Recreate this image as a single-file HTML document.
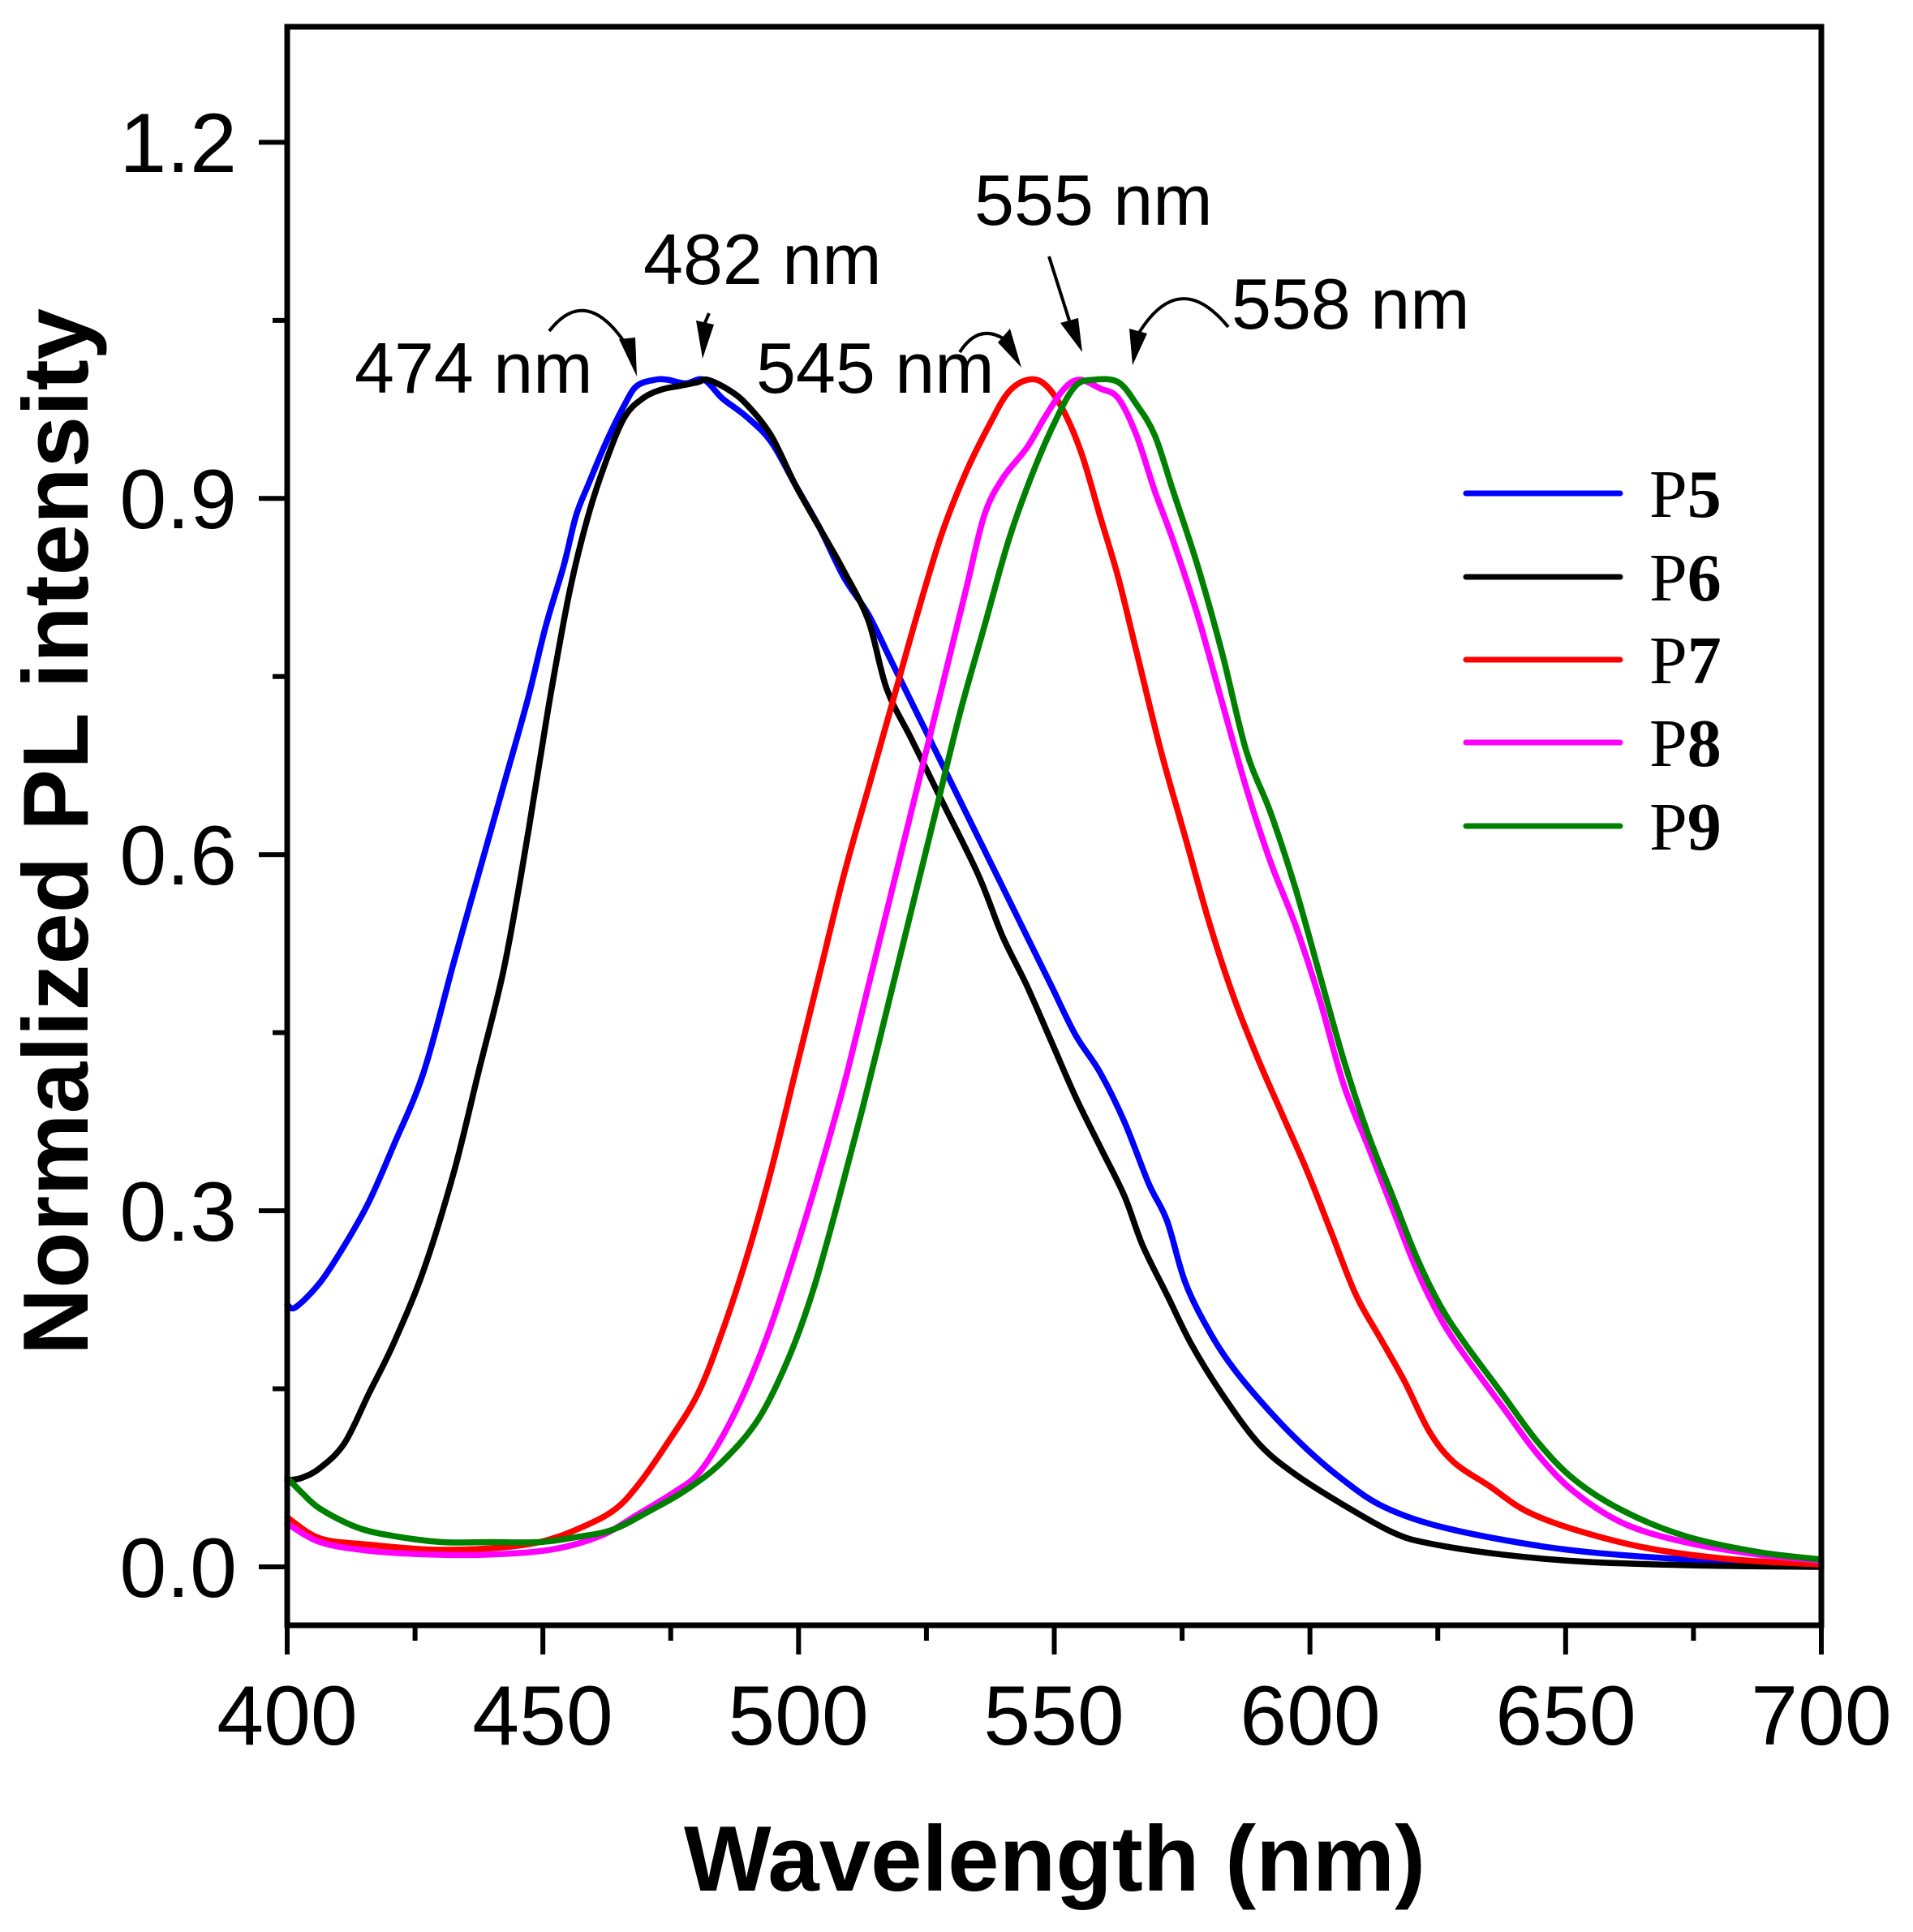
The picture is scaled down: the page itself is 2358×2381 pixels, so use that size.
<!DOCTYPE html>
<html><head><meta charset="utf-8"><style>
html,body{margin:0;padding:0;background:#fff}
svg{display:block}
.t{font-family:"Liberation Sans",Arial,sans-serif}
</style></head><body>
<svg id="s" width="2358" height="2381" viewBox="0 0 2358 2381" xmlns="http://www.w3.org/2000/svg">
<rect width="2358" height="2381" fill="#fff"/>
<g id="curves" fill="none" stroke-width="7.5" stroke-linejoin="round" stroke-linecap="round"></g>
<rect x="354" y="33" width="1891" height="1970" fill="none" stroke="#000" stroke-width="7"/>
<g id="ticks" stroke="#000" stroke-width="6"></g>
<g class="t" font-size="104" fill="#000" text-anchor="middle">
<text x="354" y="2150">400</text><text x="669" y="2150">450</text><text x="984" y="2150">500</text>
<text x="1299" y="2150">550</text><text x="1615" y="2150">600</text><text x="1930" y="2150">650</text><text x="2245" y="2150">700</text>
</g>
<g class="t" font-size="104" fill="#000" text-anchor="end">
<text x="292" y="212">1.2</text><text x="292" y="651">0.9</text><text x="292" y="1090">0.6</text>
<text x="292" y="1529">0.3</text><text x="292" y="1968">0.0</text>
</g>
<text class="t" x="1300" y="2330" font-size="114" font-weight="bold" text-anchor="middle">Wavelength (nm)</text>
<text class="t" transform="translate(108,1025) rotate(-90)" font-size="114" font-weight="bold" text-anchor="middle">Normalized PL intensity</text>
<g class="t" font-size="88" fill="#000">
<text x="437" y="484">474 nm</text><text x="793" y="350">482 nm</text><text x="932" y="484">545 nm</text>
<text x="1201" y="277">555 nm</text><text x="1518" y="405">558 nm</text>
</g>
<g fill="none" stroke="#000" stroke-width="4">
<path d="M677,408 Q722,350 772,425"/>
<path d="M874,386 L868,400"/>
<path d="M1183,434 Q1206,398 1238,418"/>
<path d="M1293,316 L1318,395"/>
<path d="M1514,403 Q1454,330 1404,410"/>
</g>
<g fill="#000">
<polygon points="763,418 783,416 785,464"/>
<polygon points="858,395 880,400 866,442"/>
<polygon points="1230,422 1245,405 1259,453"/>
<polygon points="1307,398 1329,392 1334,434"/>
<polygon points="1392,405 1414,411 1396,450"/>
</g>
<g stroke-width="7" stroke-linecap="round">
<line x1="1807" y1="608" x2="1997" y2="608" stroke="#0000ff"/>
<line x1="1807" y1="711" x2="1997" y2="711" stroke="#000"/>
<line x1="1807" y1="813" x2="1997" y2="813" stroke="#ff0000"/>
<line x1="1807" y1="915" x2="1997" y2="915" stroke="#ff00ff"/>
<line x1="1807" y1="1018" x2="1997" y2="1018" stroke="#008000"/>
</g>
<g font-family="'Liberation Serif','Times New Roman',serif" font-size="84" fill="#000">
<text x="2033" y="637">P<tspan font-weight="bold">5</tspan></text>
<text x="2033" y="740">P<tspan font-weight="bold">6</tspan></text>
<text x="2033" y="842">P<tspan font-weight="bold">7</tspan></text>
<text x="2033" y="944">P<tspan font-weight="bold">8</tspan></text>
<text x="2033" y="1047">P<tspan font-weight="bold">9</tspan></text>
</g>
</svg>
<script>
(function(){
var NS="http://www.w3.org/2000/svg";
function X(xd){return 354+(xd-233)*1.502;}
function Y(yd){return 1931-(1270-yd)*1.524;}
var data={
"#0000ff":[[233,1058],[240,1060],[260,1040],[280,1010],[300,975],[320,930],[345,870],[370,780],[390,710],[410,640],[430,570],[445,510],[460,460],[470,420],[480,395],[495,360],[510,330],[520,315],[535,310],[545,310],[560,313],[575,310],[590,325],[610,340],[630,360],[650,395],[670,430],[690,470],[710,500],[730,540],[760,600],[790,660],[820,720],[840,760],[860,800],[880,840],[900,870],[920,910],[940,960],[955,990],[970,1040],[990,1080],[1010,1110],[1040,1145],[1070,1175],[1100,1200],[1130,1220],[1170,1235],[1230,1248],[1300,1258],[1400,1265],[1492,1268]],
"#000000":[[233,1200],[245,1198],[260,1190],[280,1170],[300,1130],[320,1090],[345,1030],[370,950],[390,870],[410,790],[425,710],[440,620],[450,560],[465,480],[480,420],[495,375],[510,340],[525,325],[540,318],[555,315],[570,312],[578,310],[595,318],[610,330],[630,355],[650,395],[670,430],[690,465],[710,505],[725,560],[745,600],[770,650],[800,710],[820,760],[840,800],[860,845],[880,890],[900,930],[920,970],[935,1010],[955,1050],[975,1090],[1000,1130],[1030,1170],[1060,1195],[1100,1220],[1140,1242],[1170,1251],[1230,1260],[1300,1266],[1400,1269],[1492,1270]],
"#ff0000":[[233,1230],[260,1247],[300,1252],[350,1256],[400,1255],[440,1250],[470,1240],[500,1225],[520,1205],[545,1170],[570,1130],[590,1080],[610,1020],[630,950],[650,870],[670,790],[690,710],[710,640],[730,570],[750,500],[770,435],[790,385],[810,345],[825,320],[841,310],[855,314],[870,335],[885,370],[900,420],[915,470],[930,530],[950,610],[970,680],[990,750],[1010,810],[1030,860],[1050,905],[1070,950],[1090,1000],[1110,1050],[1130,1085],[1150,1120],[1170,1160],[1190,1185],[1220,1205],[1250,1225],[1290,1240],[1350,1255],[1420,1264],[1492,1268]],
"#ff00ff":[[233,1235],[260,1250],[300,1257],[350,1260],[400,1260],[450,1256],[490,1245],[520,1228],[550,1210],[570,1195],[590,1165],[610,1125],[630,1075],[650,1015],[670,950],[690,880],[710,800],[730,720],[750,640],[770,560],[790,480],[805,420],[820,390],[840,365],[855,340],[870,318],[883,310],[900,317],[915,325],[930,355],[945,400],[960,440],[980,500],[1000,570],[1020,640],[1040,700],[1060,750],[1080,810],[1100,880],[1120,930],[1140,980],[1160,1030],[1180,1070],[1200,1100],[1230,1140],[1260,1180],[1290,1210],[1330,1235],[1380,1250],[1440,1260],[1492,1265]],
"#008000":[[233,1198],[245,1210],[260,1223],[290,1238],[320,1245],[360,1250],[400,1250],[440,1250],[470,1246],[500,1240],[530,1225],[560,1208],[590,1185],[620,1150],[645,1100],[665,1045],[685,975],[705,900],[725,820],[745,740],[765,660],[785,580],[805,510],[825,440],[845,385],[865,340],[880,315],[895,310],[915,312],[930,330],[945,355],[960,400],[980,460],[1000,530],[1020,610],[1040,660],[1060,720],[1080,790],[1100,860],[1120,920],[1140,970],[1160,1020],[1180,1060],[1200,1090],[1230,1130],[1260,1170],[1290,1200],[1330,1225],[1380,1245],[1440,1258],[1492,1264]]
};
var g=document.getElementById("curves");
for(var c in data){var p=data[c];
 var pts=p.map(function(q){return [X(q[0]),Y(q[1])];});
 var d="M"+pts[0][0].toFixed(1)+","+pts[0][1].toFixed(1);
 for(var i=1;i<pts.length;i++){
  var p0=pts[Math.max(0,i-2)],p1=pts[i-1],p2=pts[i],p3=pts[Math.min(pts.length-1,i+1)];
  var c1x=p1[0]+(p2[0]-p0[0])/6,c1y=p1[1]+(p2[1]-p0[1])/6,c2x=p2[0]-(p3[0]-p1[0])/6,c2y=p2[1]-(p3[1]-p1[1])/6;
  d+=" C"+c1x.toFixed(1)+","+c1y.toFixed(1)+" "+c2x.toFixed(1)+","+c2y.toFixed(1)+" "+p2[0].toFixed(1)+","+p2[1].toFixed(1);
 }
 var e=document.createElementNS(NS,"path");e.setAttribute("d",d);e.setAttribute("stroke",c);g.appendChild(e);}
var t=document.getElementById("ticks");
function ln(a,b,c2,d2){var e=document.createElementNS(NS,"line");e.setAttribute("x1",a);e.setAttribute("y1",b);e.setAttribute("x2",c2);e.setAttribute("y2",d2);t.appendChild(e);}
for(var k=0;k<=12;k++){var x=354+k*1891/12;ln(x,2003,x,k%2==0?2039:2022);}
for(var k=0;k<=8;k++){var y=1931-k*0.15*1463;if(y<40)continue;ln(354,y,k%2==0?319:336,y);}
})();
</script>
</body></html>
